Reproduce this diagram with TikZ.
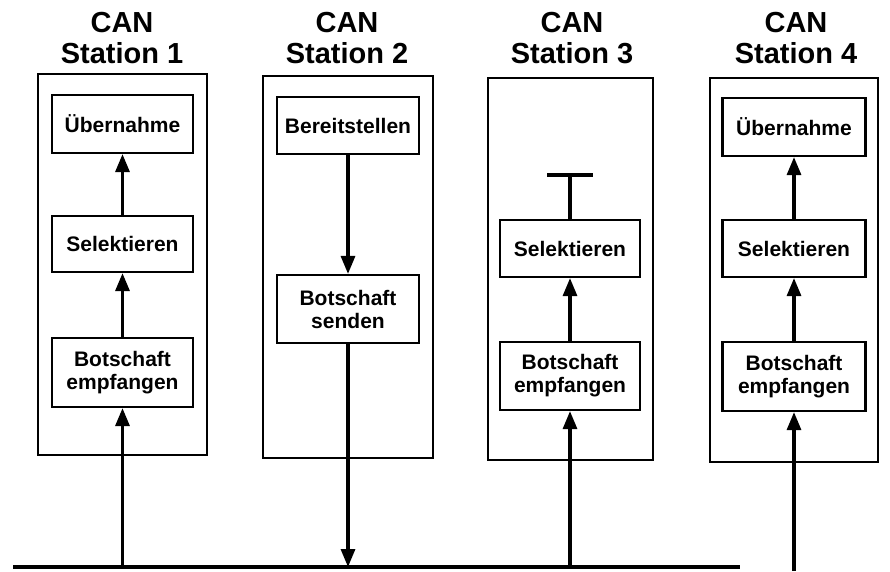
\documentclass[tikz,border=0pt]{standalone}
\usepackage{fontspec}
\setmainfont{Liberation Sans}
\usetikzlibrary{arrows.meta}
\tikzset{
  box/.style={draw, line width=2.2pt, inner sep=0pt, font=\fontsize{21}{23}\selectfont\bfseries, align=center},
  outer/.style={draw, line width=2.2pt, inner sep=0pt},
  title/.style={font=\fontsize{29}{31}\selectfont\bfseries, align=center, inner sep=0pt},
  flow/.style={line width=3.2pt, -{Triangle[length=18pt,width=14pt]}},
  plain/.style={line width=3.2pt}
}
\begin{document}
\begin{tikzpicture}[x=1pt,y=-1pt]
\useasboundingbox (0,0) rectangle (890,571);
% titles
\node[title] (t1) at (122,38) {CAN\\Station 1};
\node[title] (t2) at (347,38) {CAN\\Station 2};
\node[title] (t3) at (572,38) {CAN\\Station 3};
\node[title] (t4) at (796,38) {CAN\\Station 4};
% outer boxes
\node[outer, minimum width=169, minimum height=381] (o1) at (122.5,264.5) {};
\node[outer, minimum width=170, minimum height=382] (o2) at (348,267) {};
\node[outer, minimum width=165, minimum height=382] (o3) at (570.5,269) {};
\node[outer, minimum width=168, minimum height=384] (o4) at (794,270) {};
% station 1
\node[box, minimum width=141, minimum height=58] (u1) at (122.5,124) {Übernahme};
\node[box, minimum width=141, minimum height=56] (s1) at (122.5,244) {Selektieren};
\node[box, minimum width=141, minimum height=69] (e1) at (122.5,372.5) {Botschaft\\empfangen};
% station 2
\node[box, minimum width=142, minimum height=57] (b2) at (348,125.5) {Bereitstellen};
\node[box, minimum width=142, minimum height=68] (d2) at (348,309) {Botschaft\\senden};
% station 3
\node[box, minimum width=140, minimum height=57] (s3) at (570,248.5) {Selektieren};
\node[box, minimum width=140, minimum height=68] (e3) at (570,376) {Botschaft\\empfangen};
% station 4
\node[box, minimum width=143, minimum height=58] (u4) at (794,127) {Übernahme};
\node[box, minimum width=143, minimum height=57] (s4) at (794,248.5) {Selektieren};
\node[box, minimum width=143, minimum height=69] (e4) at (794,376.5) {Botschaft\\empfangen};
% bus
\coordinate (busL) at (13,567);
\coordinate (busR) at (740,567);
\draw[line width=3.2pt] (busL) -- (busR);
\coordinate (p1) at (122.5,567);
\coordinate (p2) at (348,567);
\coordinate (p3) at (570,567);
\coordinate (p4) at (794,571);
% arrows
\draw[flow] (p1) -- (e1.south);
\draw[flow] (e1.north) -- (s1.south);
\draw[flow] (s1.north) -- (u1.south);
\draw[flow] (b2.south) -- (d2.north);
\draw[flow] (d2.south) -- (p2);
\draw[flow] (p3) -- (e3.south);
\draw[flow] (e3.north) -- (s3.south);
\coordinate (tb) at (570,175);
\coordinate (tbl) at (547,175);
\coordinate (tbr) at (593,175);
\draw[plain] (s3.north) -- (tb);
\draw[plain] (tbl) -- (tbr);
\draw[flow] (p4) -- (e4.south);
\draw[flow] (e4.north) -- (s4.south);
\draw[flow] (s4.north) -- (u4.south);
\end{tikzpicture}
\end{document}
